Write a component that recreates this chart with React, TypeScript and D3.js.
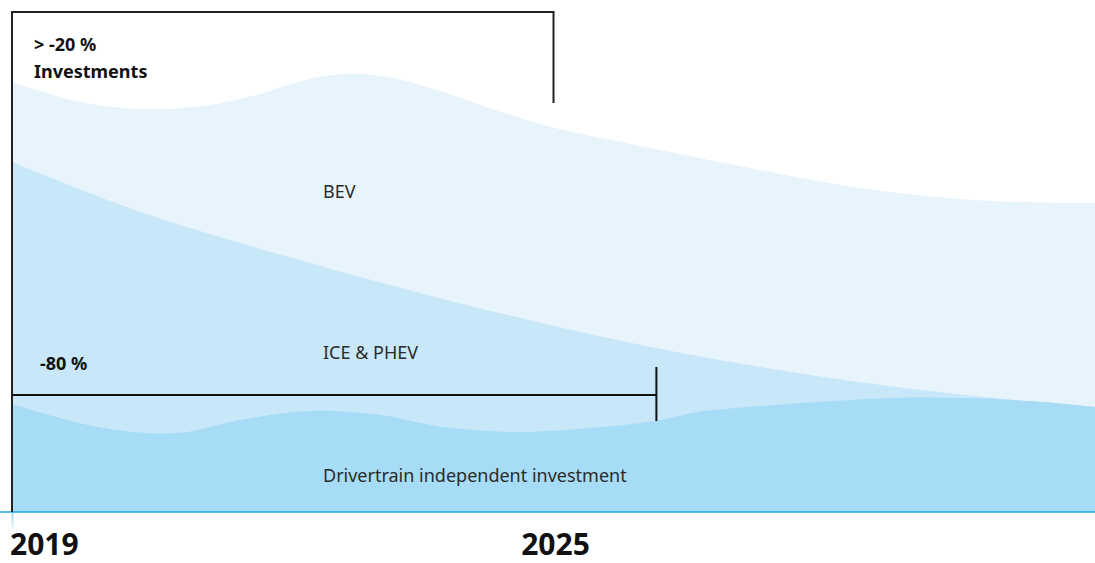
import React from "react";
import * as d3 from "d3";

// x: year, y: investment index (2019 total = 100)
const bevYears = [2019, 2019.72, 2020.4, 2021.1, 2021.7, 2022.2, 2022.7, 2023.15, 2023.74, 2024.37, 2025.02, 2025.67, 2026.51, 2027.35, 2028.2, 2029.03, 2029.87, 2031];
const bevValues = [100, 95.5, 93.7, 94.4, 97.0, 100.2, 101.9, 101.2, 97.9, 93.4, 89.3, 86.4, 82.8, 79.3, 76.0, 73.7, 72.3, 71.9];

const iceYears = [2019, 2020.42, 2021.98, 2023.53, 2024.96, 2026.42, 2027.99, 2029.56, 2031];
const iceValues = [81.4, 69.8, 59.8, 50.9, 43.5, 37.0, 31.4, 27.2, 24.4];

const dtYears = [2019, 2019.85, 2020.5, 2020.94, 2021.58, 2022.32, 2023.07, 2023.76, 2024.55, 2025.29, 2026.14, 2026.62, 2027.6, 2028.77, 2029.56, 2030.28, 2031];
const dtValues = [25.1, 20.2, 18.4, 18.6, 21.6, 23.5, 22.6, 19.8, 18.6, 19.3, 21.2, 23.3, 25.1, 26.5, 26.5, 25.8, 24.4];

const seriesLabels = ["BEV", "ICE & PHEV", "Drivertrain independent investment"];
const tickYears = [2019, 2025];
const bracketTop = { label: ["> -20 %", "Investments"], from: 2019, to: 2025 };
const bracketBottom = { label: "-80 %", from: 2019, to: 2026.14 };

const W = 1095;
const H = 563;

export default function App() {
  const x = d3.scaleLinear().domain([2019, 2031]).range([12, 1095]);
  const y = d3.scaleLinear().domain([0, 100]).range([512, 82]);

  const area = d3
    .area<[number, number]>()
    .x((d) => x(d[0]))
    .y0(y(0))
    .y1((d) => y(d[1]))
    .curve(d3.curveCatmullRom.alpha(0.5));

  const zip = (a: number[], b: number[]) => a.map((v, i) => [v, b[i]] as [number, number]);

  const layers = [
    { data: zip(bevYears, bevValues), fill: "#e8f4fc" },
    { data: zip(iceYears, iceValues), fill: "#c8e7f9" },
    { data: zip(dtYears, dtValues), fill: "#a6dcf6" },
  ];

  const labelFont = "'Noto Sans', sans-serif";
  const xl = 323;

  return (
    <div style={{ position: "absolute", left: 0, top: 0 }}>
      <svg width={W} height={H} style={{ display: "block", background: "#fff" }}>
        <defs>
          <linearGradient id="tickGrad" x1="0" y1="0" x2="0" y2="1">
            <stop offset="0" stopColor="#9fd6f3" />
            <stop offset="1" stopColor="#ffffff" />
          </linearGradient>
        </defs>
        {layers.map((l, i) => (
          <path key={i} d={area(l.data) || ""} fill={l.fill} />
        ))}

        {/* axis baseline */}
        <line x1={0} x2={W} y1={y(0)} y2={y(0)} stroke="#1aa4e6" strokeWidth={1.5} />
        <rect x={x(2019) - 0.5} y={y(0) + 1} width={2} height={20} fill="url(#tickGrad)" />

        {/* left frame + top bracket */}
        <line x1={x(bracketTop.from)} x2={x(bracketTop.from)} y1={12} y2={y(0)} stroke="#222" strokeWidth={2} />
        <line x1={x(bracketTop.from) - 1} x2={x(bracketTop.to) + 1} y1={12} y2={12} stroke="#222" strokeWidth={2} />
        <line x1={x(bracketTop.to)} x2={x(bracketTop.to)} y1={12} y2={103} stroke="#222" strokeWidth={2} />
        <text x={34} y={51} fontFamily={labelFont} fontWeight={700} fontSize={18} fill="#111">
          {bracketTop.label[0]}
        </text>
        <text x={34} y={78} fontFamily={labelFont} fontWeight={700} fontSize={18} fill="#111">
          {bracketTop.label[1]}
        </text>

        {/* bottom bracket */}
        <line x1={x(bracketBottom.from)} x2={x(bracketBottom.to)} y1={395} y2={395} stroke="#111" strokeWidth={2} />
        <line x1={x(bracketBottom.to)} x2={x(bracketBottom.to)} y1={367} y2={421} stroke="#111" strokeWidth={2} />
        <text x={40} y={370} fontFamily={labelFont} fontWeight={700} fontSize={18} fill="#111">
          {bracketBottom.label}
        </text>

        {/* series labels */}
        <text x={xl} y={198} fontFamily={labelFont} fontSize={18} fill="#2b2b2b">{seriesLabels[0]}</text>
        <text x={xl} y={359} fontFamily={labelFont} fontSize={18} fill="#2b2b2b">{seriesLabels[1]}</text>
        <text x={xl} y={482} fontFamily={labelFont} fontSize={18} fill="#2b2b2b">{seriesLabels[2]}</text>

        {/* year ticks */}
        <text x={10} y={555} fontFamily={labelFont} fontWeight={700} fontSize={30} fill="#111">{tickYears[0]}</text>
        <text x={x(tickYears[1]) + 2} y={555} textAnchor="middle" fontFamily={labelFont} fontWeight={700} fontSize={30} fill="#111">{tickYears[1]}</text>
      </svg>
    </div>
  );
}
